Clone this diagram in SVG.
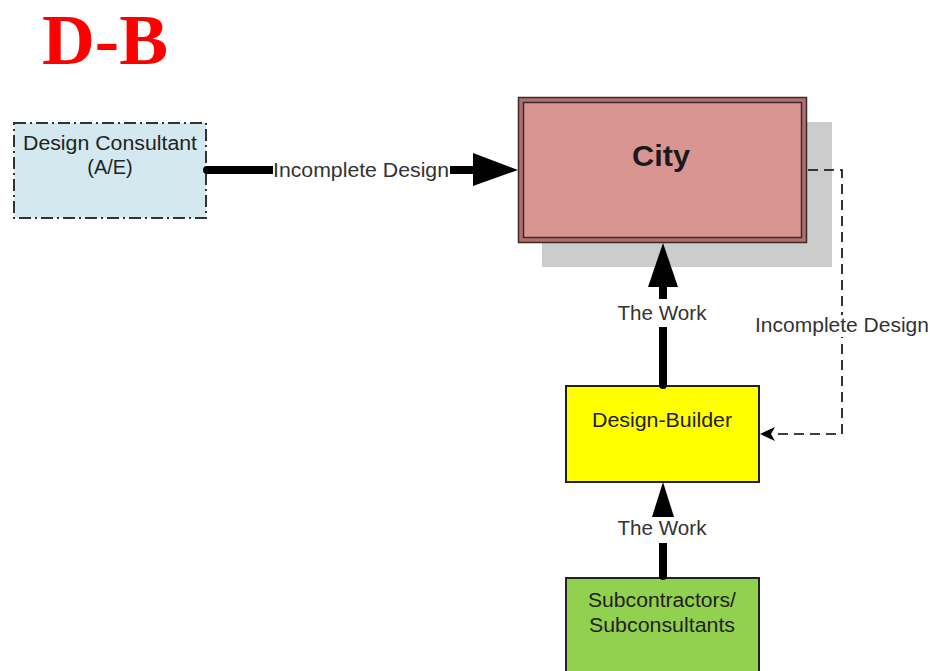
<svg xmlns="http://www.w3.org/2000/svg" width="930" height="671" viewBox="0 0 930 671">
  <style>
    .lbl { font-family: "Liberation Sans", Arial, sans-serif; font-size: 20.5px; fill: #333333; text-anchor: middle; }
    .box-text { font-family: "Liberation Sans", Arial, sans-serif; font-size: 20px; fill: #222222; text-anchor: middle; }
    .thick { stroke: #000000; stroke-width: 8; stroke-linecap: round; fill: none; }
    .dashed { stroke: #000000; stroke-width: 1.6; stroke-dasharray: 10 6; fill: none; }
    .halo { fill: #ffffff; }
  </style>

  <rect width="930" height="671" fill="#ffffff"/>

  <!-- title -->
  <text x="42" y="64" font-family="'Liberation Serif', 'Times New Roman', serif" font-weight="bold" font-size="72" fill="#ff0000" textLength="126" lengthAdjust="spacingAndGlyphs">D-B</text>

  <!-- Design Consultant (A/E) -->
  <g id="design-consultant">
    <rect x="14" y="123" width="192" height="95" fill="#d3e9ef" stroke="#333333" stroke-width="2" stroke-dasharray="12 4 2 4"/>
    <text class="box-text" x="110" y="150" textLength="174" lengthAdjust="spacingAndGlyphs">Design Consultant</text>
    <text class="box-text" x="110" y="174">(A/E)</text>
  </g>

  <!-- City -->
  <g id="city">
    <rect x="542" y="122" width="290" height="145" fill="#cccccc"/>
    <rect x="518.5" y="97.5" width="288" height="145" fill="#b26f6c" stroke="#3a2a2a" stroke-width="1.5"/>
    <rect x="523.5" y="102.5" width="278" height="135" fill="#d99592" stroke="#3a2a2a" stroke-width="1.5"/>
    <text x="661" y="166" font-family="'Liberation Sans', Arial, sans-serif" font-weight="bold" font-size="29" fill="#1a1a1a" text-anchor="middle" textLength="58" lengthAdjust="spacingAndGlyphs">City</text>
  </g>

  <!-- Design-Builder -->
  <g id="design-builder">
    <rect x="566" y="386" width="193" height="96" fill="#ffff00" stroke="#222222" stroke-width="2"/>
    <text class="box-text" x="662" y="427" textLength="140" lengthAdjust="spacingAndGlyphs">Design-Builder</text>
  </g>

  <!-- Subcontractors / Subconsultants -->
  <g id="subcontractors">
    <rect x="566" y="578" width="193" height="100" fill="#92d050" stroke="#222222" stroke-width="2"/>
    <text class="box-text" x="662" y="607" textLength="148" lengthAdjust="spacingAndGlyphs">Subcontractors/</text>
    <text class="box-text" x="662" y="632" textLength="146" lengthAdjust="spacingAndGlyphs">Subconsultants</text>
  </g>

  <!-- connectors -->
  <g id="connectors">
    <!-- Design Consultant to City -->
    <line class="thick" x1="207" y1="170" x2="476" y2="170"/>
    <polygon points="473,153 518,170 473,186" fill="#000000"/>
    <rect class="halo" x="273" y="157" width="177" height="26"/>
    <text class="lbl" x="361" y="177" textLength="176" lengthAdjust="spacingAndGlyphs">Incomplete Design</text>

    <!-- Design-Builder to City -->
    <line class="thick" x1="663" y1="385" x2="663" y2="284"/>
    <polygon points="648,287 663,243 678,287" fill="#000000"/>
    <rect class="halo" x="614" y="299" width="98" height="28"/>
    <text class="lbl" x="662" y="320" textLength="89" lengthAdjust="spacingAndGlyphs">The Work</text>

    <!-- Subcontractors to Design-Builder -->
    <line class="thick" x1="663" y1="576" x2="663" y2="514"/>
    <polygon points="652,517 663,482 674,517" fill="#000000"/>
    <rect class="halo" x="614" y="517" width="98" height="26"/>
    <text class="lbl" x="662" y="535" textLength="89" lengthAdjust="spacingAndGlyphs">The Work</text>

    <!-- City to Design-Builder (dashed) -->
    <polyline class="dashed" points="808,170 842,170 842,434 772,434"/>
    <polygon points="760,434 775,427 771,434 775,441" fill="#000000"/>
    <rect class="halo" x="754" y="315" width="175" height="22"/>
    <text class="lbl" x="842" y="332" textLength="174" lengthAdjust="spacingAndGlyphs">Incomplete Design</text>
  </g>
</svg>
